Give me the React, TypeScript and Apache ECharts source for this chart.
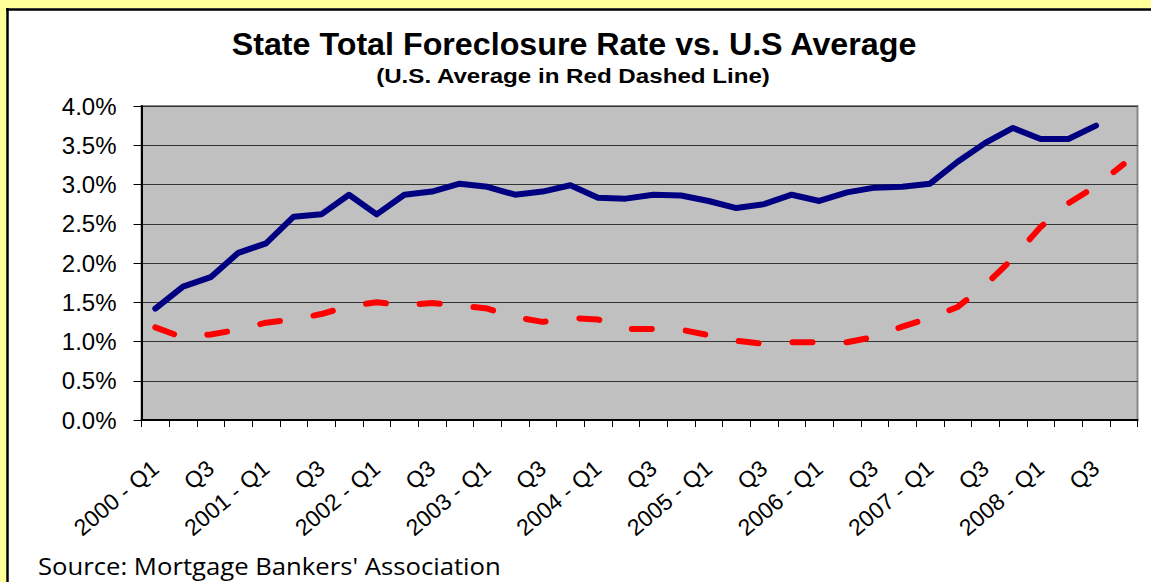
import React, { useEffect, useRef } from "react";
import * as echarts from "echarts";

const categories = [
  "2000 - Q1", "Q2", "Q3", "Q4",
  "2001 - Q1", "Q2", "Q3", "Q4",
  "2002 - Q1", "Q2", "Q3", "Q4",
  "2003 - Q1", "Q2", "Q3", "Q4",
  "2004 - Q1", "Q2", "Q3", "Q4",
  "2005 - Q1", "Q2", "Q3", "Q4",
  "2006 - Q1", "Q2", "Q3", "Q4",
  "2007 - Q1", "Q2", "Q3", "Q4",
  "2008 - Q1", "Q2", "Q3", "Q4",
];

const stateRate = [
  1.42, 1.70, 1.82, 2.13, 2.25, 2.59, 2.62, 2.87, 2.62, 2.87, 2.91, 3.01,
  2.97, 2.87, 2.91, 2.99, 2.83, 2.82, 2.87, 2.86, 2.79, 2.70, 2.75, 2.87,
  2.79, 2.90, 2.96, 2.97, 3.01, 3.29, 3.53, 3.72, 3.58, 3.58, 3.75, null,
];

const usAverage = [
  1.18, 1.05, 1.09, 1.15, 1.24, 1.28, 1.35, 1.45, 1.50, 1.46, 1.49, 1.46,
  1.42, 1.31, 1.25, 1.30, 1.28, 1.16, 1.16, 1.15, 1.08, 1.01, 0.97, 0.99,
  0.99, 0.99, 1.06, 1.19, 1.30, 1.44, 1.72, 2.06, 2.46, 2.76, 2.98, 3.26,
];

const titleText = "State Total Foreclosure Rate vs. U.S Average";
const subtitleText = "(U.S. Average in Red Dashed Line)";
const sourceText = "Source: Mortgage Bankers' Association";

export default function App() {
  const ref = useRef<HTMLDivElement>(null);
  useEffect(() => {
    if (!ref.current) return;
    const chart = echarts.init(ref.current, null, { renderer: "svg" });
    const font = "'Liberation Sans', Arial, sans-serif";
    chart.setOption({
      animation: false,
      backgroundColor: "#ffffff",
      graphic: [
        { type: "rect", shape: { x: 0, y: 0, width: 1151, height: 8 }, style: { fill: "#ffff99" } },
        { type: "rect", shape: { x: 0, y: 0, width: 6.5, height: 582 }, style: { fill: "#ffff99" } },
        { type: "line", shape: { x1: 6, y1: 9.5, x2: 1151, y2: 9.5 }, style: { stroke: "#000", lineWidth: 2.5 } },
        { type: "line", shape: { x1: 7.5, y1: 8, x2: 7.5, y2: 582 }, style: { stroke: "#000", lineWidth: 2.5 } },
        {
          type: "text", x: 574, y: 44, scaleX: 1.04,
          style: { text: titleText, font: `bold 31px ${font}`, fill: "#000", align: "center", verticalAlign: "middle" },
        },
        {
          type: "text", x: 573, y: 76, scaleX: 1.15,
          style: { text: subtitleText, font: `bold 21px ${font}`, fill: "#000", align: "center", verticalAlign: "middle" },
        },
        {
          type: "text", x: 38, y: 565, scaleX: 1.07,
          style: { text: sourceText, font: `24px 'Open Sans', sans-serif`, fill: "#000", align: "left", verticalAlign: "middle" },
        },
      ],
      grid: {
        left: 141.5, right: 13.5, top: 106, bottom: 162,
        show: true, backgroundColor: "#c0c0c0", borderColor: "#888888", borderWidth: 2,
      },
      xAxis: {
        type: "category",
        data: categories,
        boundaryGap: true,
        axisLine: { lineStyle: { color: "#000", width: 2 } },
        axisTick: { show: true, interval: 0, length: 7, lineStyle: { color: "#000", width: 1 } },
        axisLabel: {
          interval: 1, rotate: 40, margin: 45, fontSize: 23, color: "#000", fontFamily: font,
        },
        splitLine: { show: false },
      },
      yAxis: {
        type: "value",
        min: 0, max: 4, interval: 0.5,
        axisLine: { show: true, lineStyle: { color: "#000", width: 2 } },
        axisTick: { show: true, length: 8, lineStyle: { color: "#000", width: 1 } },
        axisLabel: {
          margin: 25, fontSize: 24, color: "#000", fontFamily: font,
          formatter: (v: number) => v.toFixed(1) + "%",
        },
        splitLine: { show: true, lineStyle: { color: "#333333", width: 1 } },
      },
      series: [
        {
          name: "State", type: "line", data: stateRate, symbol: "none", showSymbol: false,
          lineStyle: { color: "#000080", width: 6, cap: "round", join: "round" },
          z: 3,
        },
        {
          name: "U.S. Average", type: "line", data: usAverage, symbol: "none", showSymbol: false,
          lineStyle: { color: "#ff0000", width: 6, type: [20, 34], cap: "round", join: "round" },
          z: 2,
        },
      ],
    });
    return () => chart.dispose();
  }, []);
  return <div ref={ref} style={{ position: "fixed", left: 0, top: 0, width: 1151, height: 582 }} />;
}
